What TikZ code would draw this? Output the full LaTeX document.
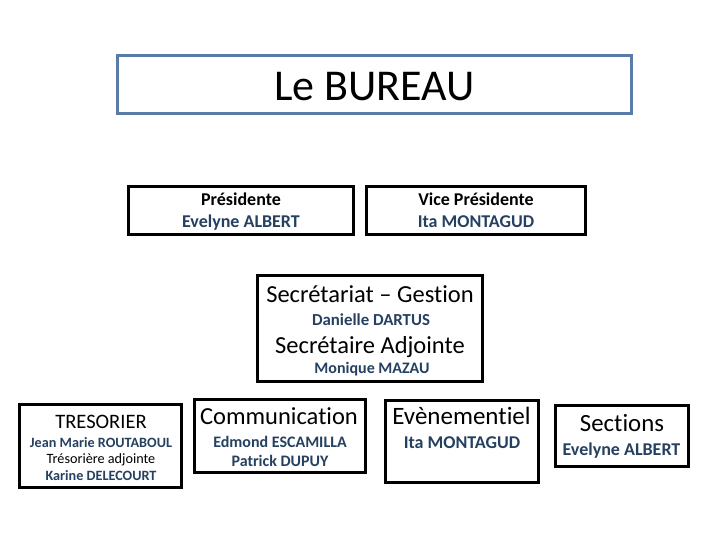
\documentclass[tikz,border=0pt]{standalone}
\usepackage{fontspec}
\setmainfont{Carlito}[Ligatures=NoCommon]
\definecolor{namecol}{RGB}{37,64,97}
\definecolor{titleblue}{RGB}{88,124,166}
\begin{document}
\begin{tikzpicture}[x=1pt,y=-1pt,
  box/.style={draw=black,line width=3pt,inner sep=0pt,rectangle},
  tbox/.style={draw=titleblue,line width=3pt,inner sep=0pt,rectangle},
  txt/.style={anchor=base,inner sep=0pt,outer sep=0pt},
  nm/.style={txt,text=namecol}]
\useasboundingbox[fill=white] (0,0) rectangle (720,540);
% boxes
\node[tbox,minimum width=514pt,minimum height=58pt] (title) at (374.5,84.5) {};
\node[box,minimum width=225pt,minimum height=48pt] (pres) at (241,210.5) {};
\node[box,minimum width=219pt,minimum height=48pt] (vice) at (476,210.5) {};
\node[box,minimum width=225pt,minimum height=106pt] (sec) at (370,328.5) {};
\node[box,minimum width=162pt,minimum height=82.5pt] (tres) at (100.5,445.75) {};
\node[box,minimum width=171pt,minimum height=72.5pt] (comm) at (280,435.75) {};
\node[box,minimum width=153pt,minimum height=82pt] (evt) at (462,441) {};
\node[box,minimum width=133pt,minimum height=61pt] (sect) at (622,435.5) {};
% title
\node[txt,font=\fontsize{44}{44}\selectfont] (tt) at (374.5,101) {Le BUREAU};
% presidente
\node[txt,font=\fontsize{18}{18}\selectfont\bfseries] (p1) at (241,205.5) {Présidente};
\node[nm,font=\fontsize{18}{18}\selectfont\bfseries] (p2) at (241,227) {Evelyne ALBERT};
% vice
\node[txt,font=\fontsize{18}{18}\selectfont\bfseries] (v1) at (476,205.5) {Vice Présidente};
\node[nm,font=\fontsize{18}{18}\selectfont\bfseries] (v2) at (476,227) {Ita MONTAGUD};
% secretariat
\node[txt,font=\fontsize{24.5}{24.5}\selectfont] (s1) at (370,302) {Secrétariat – Gestion};
\node[nm,font=\fontsize{16.8}{16.8}\selectfont\bfseries] (s2) at (371,325) {Danielle DARTUS};
\node[txt,font=\fontsize{24.5}{24.5}\selectfont] (s3) at (370,353) {Secrétaire Adjointe};
\node[nm,font=\fontsize{16}{16}\selectfont\bfseries] (s4) at (372,373) {Monique MAZAU};
% tresorier
\node[txt,font=\fontsize{20.5}{20.5}\selectfont] (r1) at (101,428) {TRESORIER};
\node[nm,font=\fontsize{14.2}{14.2}\selectfont\bfseries] (r2) at (101,447) {Jean Marie ROUTABOUL};
\node[txt,font=\fontsize{14.2}{14.2}\selectfont] (r3) at (101,463.5) {Trésorière adjointe};
\node[nm,font=\fontsize{14.2}{14.2}\selectfont\bfseries] (r4) at (101,480) {Karine DELECOURT};
% communication
\node[txt,font=\fontsize{24.5}{24.5}\selectfont] (c1) at (279,424) {Communication};
\node[nm,font=\fontsize{16}{16}\selectfont\bfseries] (c2) at (280,447) {Edmond ESCAMILLA};
\node[nm,font=\fontsize{16}{16}\selectfont\bfseries] (c3) at (280,466) {Patrick DUPUY};
% evenementiel
\node[txt,font=\fontsize{25}{25}\selectfont] (e1) at (461.5,424) {Evènementiel};
\node[nm,font=\fontsize{18}{18}\selectfont\bfseries] (e2) at (462,448) {Ita MONTAGUD};
% sections
\node[txt,font=\fontsize{24.8}{24.8}\selectfont] (x1) at (622,431) {Sections};
\node[nm,font=\fontsize{18}{18}\selectfont\bfseries] (x2) at (621.5,455) {Evelyne ALBERT};
\end{tikzpicture}
\end{document}
